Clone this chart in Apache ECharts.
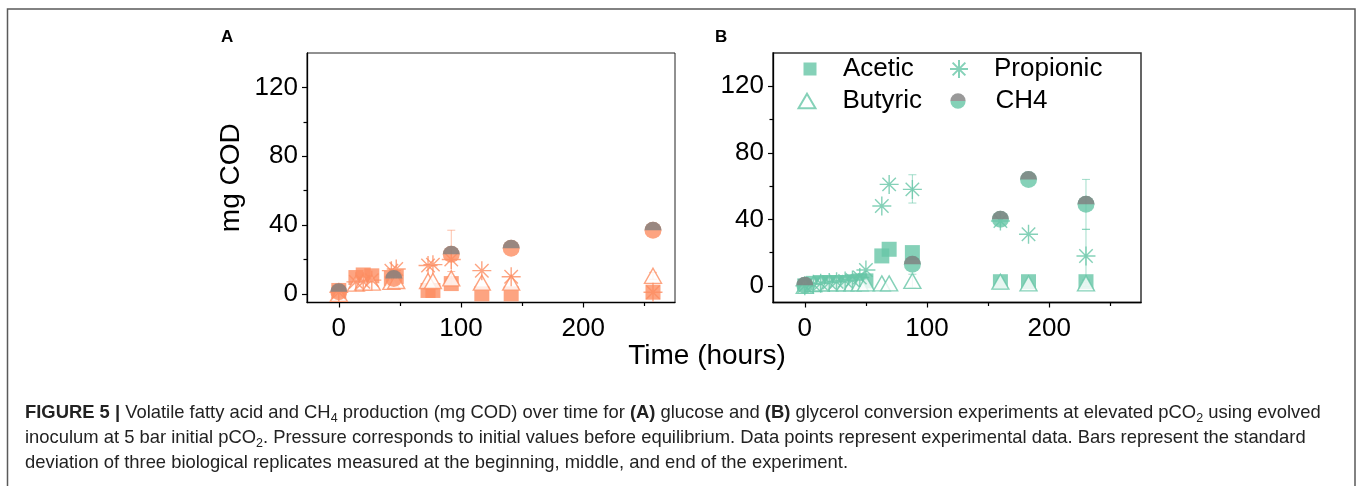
<!DOCTYPE html>
<html><head><meta charset="utf-8">
<script src="https://cdn.jsdelivr.net/npm/echarts@6/dist/echarts.min.js"></script>
<style>html,body{margin:0;padding:0;background:#fff}#c{width:1358px;height:486px}</style>
</head><body><div id="c"></div>
<script>
// ---------- data ----------
// Panel A (glucose), orange
const timeA      = [0, 14, 20, 27, 43, 47, 73, 77, 92, 117, 141, 257];
const aceticA    = [2, 9.5, 11, 10.5, 9, 10, 2, 2, 6, 0, 0, 1];
const butyricA   = [0, 6, 6.5, 6.5, 7, 7.5, 7.5, 7.5, 9, 6.5, 6.5, 10.5];
const propionicA = [1, 7, 7, 8, 13.5, 14.5, 16.5, 17, 20, 13.5, 10, 1];
const ch4TimeA   = [0, 45, 92, 141, 257];
const ch4A       = [1.3, 9, 23, 26.5, 37];
const errTimeA   = [0, 92, 92, 257];
const errValA    = [1.3, 23, 9, 10.5];
const errSdA     = [3, 14, 4, 2];
// Panel B (glycerol), green
const timeB      = [0, 7, 13, 20, 26, 33, 39, 45, 50, 63, 69, 88, 160, 183, 230];
const aceticB    = [0, 1.5, 2, 2, 2, 2, 2.5, 3, 3, 18, 22, 20, 2.5, 2.5, 2.5];
const butyricB   = [0, 1, 1.5, 1.5, 1.5, 1.5, 1.5, 1.5, 1.5, 1.5, 1.5, 3, 2.5, 1.5, 1.5];
const propionicB = [0, 1, 1.5, 2, 2.5, 3, 3.5, 5, 9.5, 48, 61, 58, 39, 31, 18];
const ch4TimeB   = [0, 88, 160, 183, 230];
const ch4B       = [0.4, 13, 40, 64, 49];
const errTimeB   = [88, 88, 230, 230, 230];
const errValB    = [58.3, 3, 49, 18, 1.5];
const errSdB     = [8.5, 4, 15, 16, 2];
// axes
const xTickMajor = [0, 100, 200];
const xTickMinor = [50, 150, 250];
const yTickMajor = [0, 40, 80, 120];
const yTickMinor = [20, 60, 100];

// ---------- style ----------
const ORANGE = '#fc8d62', GREEN = '#66c6a6', GRAY = '#808080';
const FONT = "'Liberation Sans', Arial, sans-serif";
const STAR = 'path://M10,0 L10,20 M0,10 L20,10 M2.93,2.93 L17.07,17.07 M17.07,2.93 L2.93,17.07';
const TRI = 'path://M10,0 L20,17.3 L0,17.3 Z';
const HALF_TOP = 'path://M0,10 A10,10 0 0 1 20,10 Z';
function halfIcon(c){
  const svg = "<svg xmlns='http://www.w3.org/2000/svg' width='20' height='20'>" +
    "<path d='M1,10 A9,9 0 0 1 19,10 Z' fill='" + GRAY + "'/>" +
    "<path d='M1,10 A9,9 0 0 0 19,10 Z' fill='" + c + "'/></svg>";
  return 'image://data:image/svg+xml;charset=utf-8,' + encodeURIComponent(svg);
}

function xAxes(g){
  return [
    {gridIndex:g, type:'value', min:-26, max:275, position:'bottom',
     axisLine:{onZero:false, lineStyle:{color:'#000', width:1.3}},
     axisTick:{customValues:xTickMajor, length:5, lineStyle:{color:'#000', width:1.2}},
     axisLabel:{customValues:xTickMajor, fontSize:26, color:'#000', fontFamily:FONT, margin:13},
     splitLine:{show:false}},
    {gridIndex:g, type:'value', min:-26, max:275, position:'bottom',
     axisLine:{show:false, onZero:false},
     axisTick:{customValues:xTickMinor, length:3.5, lineStyle:{color:'#000', width:1.2}},
     axisLabel:{show:false}, splitLine:{show:false}}
  ];
}
function yAxes(g, ymin, name){
  return [
    {gridIndex:g, type:'value', min:ymin, max:140, position:'left',
     name:name, nameLocation:'middle', nameGap:62, nameRotate:90,
     nameTextStyle:{fontSize:28, color:'#000', fontFamily:FONT},
     axisLine:{onZero:false, lineStyle:{color:'#000', width:1.3}},
     axisTick:{customValues:yTickMajor, length:5, lineStyle:{color:'#000', width:1.2}},
     axisLabel:{customValues:yTickMajor, fontSize:26, color:'#000', fontFamily:FONT, margin:9},
     splitLine:{show:false}},
    {gridIndex:g, type:'value', min:ymin, max:140, position:'left',
     axisLine:{show:false, onZero:false},
     axisTick:{customValues:yTickMinor, length:3.5, lineStyle:{color:'#000', width:1.2}},
     axisLabel:{show:false}, splitLine:{show:false}}
  ];
}
function pts(t, v){ return t.map((x, i) => [x, v[i]]); }
function panelSeries(g, c, suffix, t, ac, bu, pr, ct, ch, et, ev, es){
  const xi = g*2, yi = g*2;
  const errColor = c === ORANGE ? 'rgba(252,141,98,0.55)' : 'rgba(102,198,166,0.6)';
  return [
    {type:'custom', name:'err'+suffix, xAxisIndex:xi, yAxisIndex:yi, silent:true, z:1,
     encode:{x:0, y:1},
     data: et.map((x, i) => [x, ev[i], es[i]]),
     renderItem: function(params, api){
       const x = api.value(0), y = api.value(1), s = api.value(2);
       const p1 = api.coord([x, y + s]), p2 = api.coord([x, y - s]);
       const w = 4, st = {stroke:errColor, lineWidth:1};
       return {type:'group', children:[
         {type:'line', shape:{x1:p1[0], y1:p1[1], x2:p2[0], y2:p2[1]}, style:st},
         {type:'line', shape:{x1:p1[0]-w, y1:p1[1], x2:p1[0]+w, y2:p1[1]}, style:st},
         {type:'line', shape:{x1:p2[0]-w, y1:p2[1], x2:p2[0]+w, y2:p2[1]}, style:st}
       ]};
     }},
    {type:'scatter', name: g===1 ? 'Acetic' : 'Acetic ', xAxisIndex:xi, yAxisIndex:yi, z:2,
     symbol:'rect', symbolSize:15, itemStyle:{color:c}, data:pts(t, ac)},
    {type:'scatter', name: g===1 ? 'Butyric' : 'Butyric ', xAxisIndex:xi, yAxisIndex:yi, z:3,
     symbol:TRI, symbolSize:[17, 15], itemStyle:{color:'#fff', borderColor:c, borderWidth:1.4}, data:pts(t, bu)},
    {type:'scatter', name: g===1 ? 'Propionic' : 'Propionic ', xAxisIndex:xi, yAxisIndex:yi, z:4,
     symbol:STAR, symbolSize:19, itemStyle:{color:'rgba(0,0,0,0)', borderColor:c, borderWidth:1.4}, data:pts(t, pr)},
    {type:'scatter', name: g===1 ? 'CH4' : 'CH4 ', xAxisIndex:xi, yAxisIndex:yi, z:5,
     symbol:'circle', symbolSize:17, itemStyle:{color:c}, data:pts(ct, ch)},
    {type:'scatter', name:'ch4top'+suffix, xAxisIndex:xi, yAxisIndex:yi, z:6, silent:true,
     symbol:HALF_TOP, symbolSize:[17, 8.5], symbolOffset:[0, -4.25], itemStyle:{color:GRAY}, data:pts(ct, ch)}
  ];
}

const CAP_FONT = "'Liberation Sans', Arial, sans-serif";
const CAP_SIZE = 18.4;
const legTxt = (pad) => ({fontSize:26, color:'#000', fontFamily:FONT, padding:[0,0,0,pad]});
const option = {
  backgroundColor:'#fff',
  animation:false,
  graphic:[{type:'rect', shape:{x:7.5, y:9, width:1347.5, height:520}, style:{fill:'none', stroke:'#5a5a5a', lineWidth:1.5}, silent:true, z:-1}],
  title:[
    {text:'A', left:221, top:29, padding:0, textStyle:{fontSize:17, fontWeight:'bold', color:'#000', fontFamily:FONT}},
    {text:'B', left:715, top:29, padding:0, textStyle:{fontSize:17, fontWeight:'bold', color:'#000', fontFamily:FONT}},
    {text:'Time (hours)', left:707, textAlign:'center', top:342, padding:0, textStyle:{fontSize:28, fontWeight:'normal', color:'#000', fontFamily:FONT}},
    {text:'{b|FIGURE 5 |} Volatile fatty acid and CH{s|4} production (mg COD) over time for {b|(A)} glucose and {b|(B)} glycerol conversion experiments at elevated pCO{s|2} using evolved\n' +
          'inoculum at 5 bar initial pCO{s|2}. Pressure corresponds to initial values before equilibrium. Data points represent experimental data. Bars represent the standard\n' +
          'deviation of three biological replicates measured at the beginning, middle, and end of the experiment.',
     left:25, top:400.5, padding:0,
     textStyle:{fontSize:CAP_SIZE, fontWeight:'normal', color:'#222', fontFamily:CAP_FONT, lineHeight:25,
       rich:{
         b:{fontSize:CAP_SIZE, fontWeight:'bold', color:'#222', fontFamily:CAP_FONT, lineHeight:25},
         s:{fontSize:12.5, color:'#222', fontFamily:CAP_FONT, lineHeight:15, verticalAlign:'bottom'}
       }}}
  ],
  legend:[
    {left:803.5, top:56, padding:0, itemWidth:13, itemHeight:13, selectedMode:false, textStyle:legTxt(21.5),
     data:[{name:'Acetic', icon:'rect'}]},
    {left:949, top:56, padding:0, itemWidth:18, itemHeight:18, selectedMode:false, textStyle:legTxt(21),
     data:[{name:'Propionic', icon:STAR}]},
    {left:797.5, top:88, padding:0, itemWidth:17, itemHeight:15, selectedMode:false, textStyle:legTxt(22),
     data:[{name:'Butyric', icon:TRI}]},
    {left:949.5, top:88, padding:0, itemWidth:17, itemHeight:17, selectedMode:false, textStyle:legTxt(24),
     data:[{name:'CH4', icon:halfIcon(GREEN)}]}
  ],
  grid:[
    {left:307, top:53, width:368, height:249.5, show:true, borderColor:'#222', borderWidth:1, backgroundColor:'transparent'},
    {left:773, top:53, width:368, height:249.5, show:true, borderColor:'#333', borderWidth:1.5, backgroundColor:'transparent'}
  ],
  xAxis: xAxes(0).concat(xAxes(1)),
  yAxis: yAxes(0, -5, 'mg COD').concat(yAxes(1, -10, '')),
  series: panelSeries(0, ORANGE, 'A', timeA, aceticA, butyricA, propionicA, ch4TimeA, ch4A, errTimeA, errValA, errSdA)
    .concat(panelSeries(1, GREEN, 'B', timeB, aceticB, butyricB, propionicB, ch4TimeB, ch4B, errTimeB, errValB, errSdB))
};
const chart = echarts.init(document.getElementById('c'), null, {renderer:'canvas'});
chart.setOption(option);
</script>
</body></html>
